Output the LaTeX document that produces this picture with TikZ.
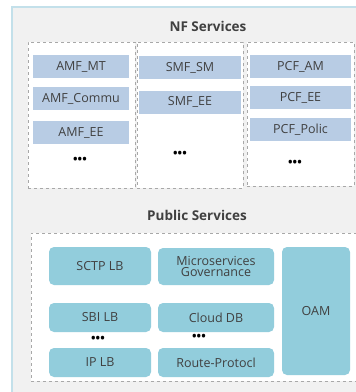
\documentclass[tikz,border=0pt]{standalone}
\usepackage{fontspec}
\setmainfont{Open Sans}
\definecolor{bgc}{HTML}{F1F1F1}
\definecolor{framec}{HTML}{C3E0EA}
\definecolor{dashc}{HTML}{A8A8A8}
\definecolor{nfblue}{HTML}{B8CCE4}
\definecolor{teal}{HTML}{92CDDC}
\definecolor{txt}{HTML}{404040}
\begin{document}
\begin{tikzpicture}[x=1pt,y=-1pt,
  grp/.style={draw=dashc,dashed,line width=0.9pt,fill=white,inner sep=0pt},
  nfbox/.style={fill=nfblue,draw=none,text=txt,font=\fontsize{12.5}{14}\selectfont,inner sep=0pt},
  pubbox/.style={fill=teal,draw=none,rounded corners=5pt,text=txt,font=\fontsize{12.5}{14}\selectfont,inner sep=0pt,align=center},
  ttl/.style={text=txt,font=\bfseries\fontsize{13.5}{16}\selectfont,inner sep=0pt},
  dots/.style={text=black,font=\bfseries\fontsize{12}{12}\selectfont,inner sep=0pt}]
\useasboundingbox (0,0) rectangle (356,392);
\clip (0,0) rectangle (356,392);
\fill[white] (0,0) rectangle (356,392);
\draw[draw=framec,fill=bgc,line width=1.5pt] (12,7) rectangle (380,420);
% NF Services
\node[ttl] (nft) at (208,26) {NF Services};
\node[grp,minimum width=107pt,minimum height=146pt] (g1) at (81.5,115) {};
\node[grp,minimum width=106pt,minimum height=146pt] (g2) at (190,115) {};
\node[grp,minimum width=107pt,minimum height=144pt] (g3) at (300.5,114) {};
\node[nfbox,minimum width=96pt,minimum height=23pt] (a1) at (81,66.5) {AMF\_MT};
\node[nfbox,minimum width=96pt,minimum height=23pt] (a2) at (81,98.5) {AMF\_Commu};
\node[nfbox,minimum width=96pt,minimum height=23pt] (a3) at (81,132.5) {AMF\_EE};
\node[dots] (ad) at (80,160) {•••};
\node[nfbox,minimum width=102pt,minimum height=23pt] (s1) at (190,67.5) {SMF\_SM};
\node[nfbox,minimum width=102pt,minimum height=23pt] (s2) at (190,102) {SMF\_EE};
\node[dots] (sd) at (180,154) {•••};
\node[nfbox,minimum width=101pt,minimum height=23pt] (p1) at (300.5,66.5) {PCF\_AM};
\node[nfbox,minimum width=101pt,minimum height=23pt] (p2) at (300.5,97.5) {PCF\_EE};
\node[nfbox,minimum width=101pt,minimum height=23pt] (p3) at (300.5,129.5) {PCF\_Polic};
\node[dots] (pd) at (295,163) {•••};
% Public Services
\node[ttl] (pst) at (197,215) {Public Services};
\node[grp,minimum width=326pt,minimum height=148pt] (g4) at (194,307) {};
\node[pubbox,minimum width=102pt,minimum height=38pt] (sctp) at (100,266) {SCTP LB};
\node[pubbox,minimum width=116pt,minimum height=37pt] (mg) at (216,266.5) {Microservices\\[-3pt]Governance};
\node[pubbox,minimum width=102pt,minimum height=29pt] (sbi) at (100,317.5) {SBI LB};
\node[pubbox,minimum width=116pt,minimum height=29pt] (cdb) at (216,317.5) {Cloud DB};
\node[dots] (bd1) at (98,339.5) {•••};
\node[dots] (bd2) at (199,337.5) {•••};
\node[pubbox,minimum width=102pt,minimum height=29pt] (ip) at (100,362.5) {IP LB};
\node[pubbox,minimum width=116pt,minimum height=29pt] (rp) at (216,362.5) {Route-Protocl};
\node[pubbox,minimum width=68pt,minimum height=128pt] (oam) at (316,311) {OAM};
\end{tikzpicture}
\end{document}
